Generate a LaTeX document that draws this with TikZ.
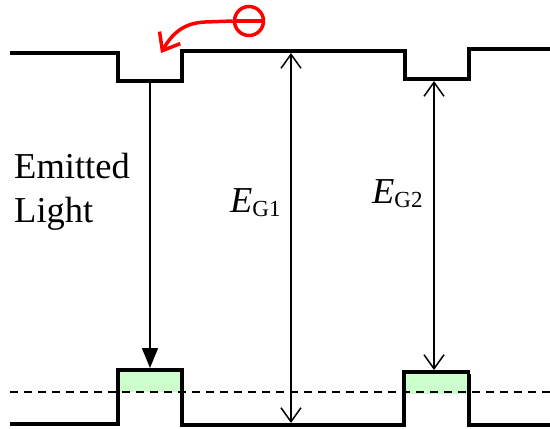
\documentclass[tikz,border=0pt]{standalone}
\usepackage{fontspec}
\setmainfont{Liberation Serif}
\newfontfamily\labelfont{Liberation Serif}
\usetikzlibrary{arrows.meta}
\definecolor{holefill}{HTML}{CCFFCC}
\newcommand{\gaplabel}[1]{{\itshape E}\raisebox{-4pt}{\fontsize{23}{26}\selectfont #1}}
\begin{document}
\begin{tikzpicture}[x=1pt,y=-1pt,
  band/.style={line width=4pt, line join=miter},
  fermi/.style={line width=1.5pt, dash pattern=on 8pt off 6pt},
  transition/.style={line width=1.5pt, -{Triangle[length=20pt,width=16pt]}},
  gaparrow/.style={line width=1.5pt, {Straight Barb[length=14pt,width=20pt,line width=1.5pt]}-{Straight Barb[length=14pt,width=20pt,line width=1.5pt]}},
  lbl/.style={font=\labelfont\fontsize{36.5}{40}\selectfont, inner sep=0pt, anchor=base west},
  electron/.style={circle, draw=red, line width=3.5pt, minimum size=29pt, inner sep=0pt}
]
\useasboundingbox (0,0) rectangle (550,429);

% hole-filled regions of the valence band bumps
\fill[holefill] (118,370) rectangle (182,392);
\fill[holefill] (404,372) rectangle (470,394);

% quasi-Fermi level
\draw[fermi] (10,392) -- (550,392);

% conduction band edge
\draw[band] (10,53) -- (118,53) -- (118,81) -- (182,81) -- (182,51)
  -- (405,51) -- (405,79) -- (469,79) -- (469,49) -- (550,49);

% valence band edge
\draw[band] (10,424) -- (118,424) -- (118,370) -- (182,370) -- (182,425)
  -- (404,425) -- (404,372) -- (470,372);
\draw[band] (469,374) -- (469,425) -- (550,425);

% arrow end points
\coordinate (cbw1) at (150,82);
\coordinate (vbw1) at (150,368);
\coordinate (cb1)  at (291,53);
\coordinate (vb1)  at (291,423);
\coordinate (cbw2) at (434,81);
\coordinate (vbw2) at (434,370);

% radiative transition and band gaps
\draw[transition] (cbw1) -- (vbw1);
\draw[gaparrow] (cb1) -- (vb1);
\draw[gaparrow] (cbw2) -- (vbw2);

% labels
\node[lbl] (emitted) at (14,178) {Emitted};
\node[lbl] (light) at (14,222) {Light};
\node[lbl] (eg1) at (230,212) {\gaplabel{G1}};
\node[lbl] (eg2) at (372,203) {\gaplabel{G2}};

% electron captured into the well
\node[electron] (e) at (249,21) {};
\draw[red, line width=3.5pt] (e.west) -- (e.east);
\coordinate (etip) at (161,53);
\draw[red, line width=3.5pt, -{Straight Barb[length=15pt,width=24pt,line width=3.5pt]}]
  (e.west) -- (205,22) .. controls (183,23) and (172,34) .. (etip);
\end{tikzpicture}
\end{document}
